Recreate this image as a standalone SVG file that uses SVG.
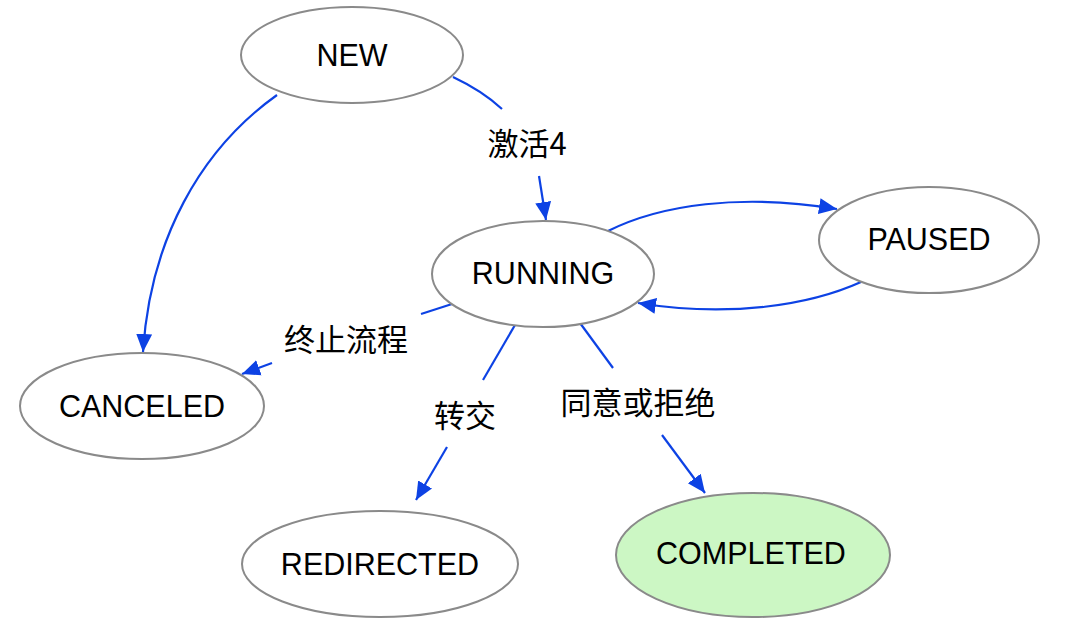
<svg xmlns="http://www.w3.org/2000/svg" width="1074" height="644" viewBox="0 0 1074 644">
<style>
.node ellipse{fill:#ffffff;stroke:#8a8a8a;stroke-width:2}
.node text{font-family:"Liberation Sans","Noto Sans CJK SC",sans-serif;font-size:30.5px;fill:#000;text-anchor:middle}
#completed ellipse{fill:#ccf7c4}
.edges path{fill:none;stroke:#0d42e4;stroke-width:2.2}
.edges text{font-family:"Noto Sans CJK SC","Liberation Sans",sans-serif;font-size:31px;fill:#000;text-anchor:middle}
</style>
<defs>
<marker id="arr" markerUnits="userSpaceOnUse" markerWidth="20" markerHeight="18" refX="18" refY="9" orient="auto" viewBox="0 0 20 18">
<path d="M0,1 L18,9 L0,17 z" fill="#0d42e4"/>
</marker>
</defs>
<rect width="1074" height="644" fill="#ffffff"/>
<g class="edges" id="edges">
<path d="M453,77 C470,85 488,96 502,109"/>
<path d="M539,176 L546,220" marker-end="url(#arr)"/>
<text x="527" y="155">激活4</text>
<path d="M277,95 C200,150 150,240 143,352" marker-end="url(#arr)"/>
<path d="M608,231 C660,205 740,193 837,209" marker-end="url(#arr)"/>
<path d="M861,282 C810,305 730,318 638,303" marker-end="url(#arr)"/>
<path d="M452,304 L421,314"/>
<path d="M272,363 L242,374" marker-end="url(#arr)"/>
<text x="346" y="351">终止流程</text>
<path d="M515,325 L483,380"/>
<path d="M447,447 L416,500" marker-end="url(#arr)"/>
<text x="465" y="427">转交</text>
<path d="M580,323 L613,368"/>
<path d="M662,435 L705,493" marker-end="url(#arr)"/>
<text x="638" y="414">同意或拒绝</text>
</g>
<g class="node" id="new"><ellipse cx="352" cy="55" rx="111" ry="48"/><text x="352" y="66">NEW</text></g>
<g class="node" id="running"><ellipse cx="543" cy="274" rx="111" ry="53"/><text x="543" y="284">RUNNING</text></g>
<g class="node" id="paused"><ellipse cx="929" cy="240" rx="110" ry="53"/><text x="929" y="250">PAUSED</text></g>
<g class="node" id="canceled"><ellipse cx="142" cy="406" rx="122" ry="53"/><text x="142" y="417">CANCELED</text></g>
<g class="node" id="redirected"><ellipse cx="380" cy="564" rx="138" ry="53"/><text x="380" y="575">REDIRECTED</text></g>
<g class="node" id="completed"><ellipse cx="753" cy="555" rx="137" ry="62"/><text x="751" y="564">COMPLETED</text></g>
</svg>
